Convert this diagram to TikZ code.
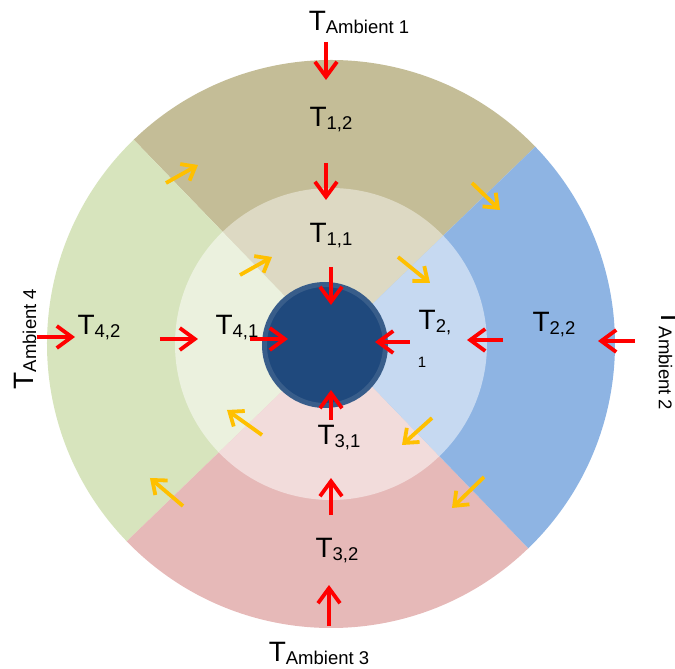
\documentclass[tikz,border=0pt]{standalone}
\usepackage{fontspec}
\setmainfont{Liberation Sans}
\usetikzlibrary{arrows.meta}

\definecolor{tanouter}{HTML}{C4BD97}
\definecolor{taninner}{HTML}{DDD9C3}
\definecolor{blueouter}{HTML}{8EB4E3}
\definecolor{blueinner}{HTML}{C6D9F1}
\definecolor{pinkouter}{HTML}{E6B9B8}
\definecolor{pinkinner}{HTML}{F2DCDB}
\definecolor{greenouter}{HTML}{D7E4BD}
\definecolor{greeninner}{HTML}{EBF1DE}
\definecolor{corefill}{HTML}{1F497D}
\definecolor{coreedge}{HTML}{385D8A}
\definecolor{flowyellow}{HTML}{FFC000}

\newcommand{\Tsub}[1]{T\raisebox{-3pt}{\fontsize{18.5}{18.5}\selectfont #1}}

\begin{document}
\begin{tikzpicture}[x=1pt,y=1pt,
    lbl/.style={inner sep=0pt,font=\fontsize{28}{28}\selectfont},
    conduct/.style={red,line width=3.8pt,-{Straight Barb[length=15pt,width=22pt]}},
    spread/.style={flowyellow,line width=3.8pt,-{Straight Barb[length=12pt,width=19pt]}}]
\useasboundingbox (-331,-325) rectangle (344,344);

% outer ring
\fill[tanouter] (0,0) -- (44:284) arc[start angle=44,end angle=134,radius=284] -- cycle;
\fill[greenouter] (0,0) -- (134:284) arc[start angle=134,end angle=224,radius=284] -- cycle;
\fill[pinkouter] (0,0) -- (224:284) arc[start angle=224,end angle=314,radius=284] -- cycle;
\fill[blueouter] (0,0) -- (314:284) arc[start angle=314,end angle=404,radius=284] -- cycle;
% inner ring
\fill[taninner] (0,0) -- (44:156) arc[start angle=44,end angle=134,radius=156] -- cycle;
\fill[greeninner] (0,0) -- (134:156) arc[start angle=134,end angle=224,radius=156] -- cycle;
\fill[pinkinner] (0,0) -- (224:156) arc[start angle=224,end angle=314,radius=156] -- cycle;
\fill[blueinner] (0,0) -- (314:156) arc[start angle=314,end angle=404,radius=156] -- cycle;
% core
\draw[coreedge,fill=corefill,line width=5pt] (-6,-1) circle[radius=60.5];

% temperatures
\node[lbl] (amb1) at (28,322) {\Tsub{Ambient 1}};
\node[lbl] (t12) at (0,224) {\Tsub{1,2}};
\node[lbl] (t11) at (0,108) {\Tsub{1,1}};
\node[lbl] (t42) at (-232,16) {\Tsub{4,2}};
\node[lbl] (t41) at (-94,16) {\Tsub{4,1}};
\node[lbl] (t21) at (104,21) {\Tsub{2,}};
\node[inner sep=0pt,font=\fontsize{15}{15}\selectfont] (t21b) at (91,-18) {1};
\node[lbl] (t22) at (223,19) {\Tsub{2,2}};
\node[lbl] (t31) at (8,-94) {\Tsub{3,1}};
\node[lbl] (t32) at (6,-207) {\Tsub{3,2}};
\node[lbl] (amb3) at (-12,-309) {\Tsub{Ambient 3}};
\node[lbl,rotate=90] (amb4) at (-306,5) {\Tsub{Ambient 4}};
\node[lbl,rotate=-90] (amb2) at (339,-16) {\Tsub{Ambient 2}};

% heat flow towards the core
\foreach \n/\ax/\ay/\bx/\by in {1/-5/302/-5/264, 2/-5/181/-5/144, 3/0/77/0/39,
    4/-81/5/-43/5, 5/79/2/44/2, 6/0/-76/0/-46, 7/-171/5/-133/5, 8/-294/7/-256/7,
    9/172/4/136/4, 10/304/3/267/3, 11/0/-171/0/-134, 12/-2/-282/-2/-241}{
  \coordinate (cs\n) at (\ax,\ay);
  \coordinate (ce\n) at (\bx,\by);
  \draw[conduct] (cs\n) -- (ce\n);
}
% heat flow between sectors
\foreach \n/\ax/\ay/\bx/\by in {1/-165/161/-133/179, 2/141/161/169/134,
    3/-91/69/-59/87, 4/67/87/99/61, 5/-69/-91/-104/-66, 6/101/-74/71/-101,
    7/153/-133/121/-164, 8/-148/-162/-181/-134}{
  \coordinate (ss\n) at (\ax,\ay);
  \coordinate (se\n) at (\bx,\by);
  \draw[spread] (ss\n) -- (se\n);
}
\end{tikzpicture}
\end{document}
